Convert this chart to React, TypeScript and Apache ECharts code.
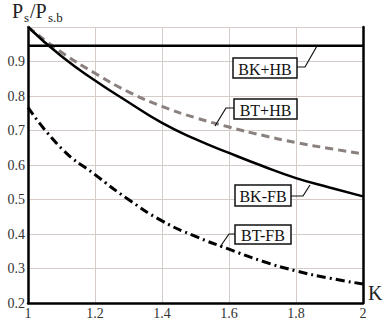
import React, { useEffect, useRef } from "react";
import * as echarts from "echarts";

const kValues = [1.0, 1.1, 1.2, 1.3, 1.4, 1.5, 1.6, 1.7, 1.8, 1.9, 2.0];
const bkHb = [0.946, 0.946, 0.946, 0.946, 0.946, 0.946, 0.946, 0.946, 0.946, 0.946, 0.946];
const btHb = [1.0, 0.927, 0.866, 0.812, 0.77, 0.737, 0.71, 0.686, 0.665, 0.648, 0.632];
const bkFb = [1.0, 0.915, 0.845, 0.782, 0.722, 0.675, 0.635, 0.597, 0.562, 0.535, 0.509];
const btFb = [0.767, 0.648, 0.572, 0.5, 0.438, 0.393, 0.356, 0.321, 0.293, 0.272, 0.255];
const seriesNames = ["BK+HB", "BT+HB", "BK-FB", "BT-FB"];

const SERIF = "Liberation Serif";

function pairs(ys: number[]) {
  return kValues.map((k, i) => [k, ys[i]]);
}

export default function App() {
  const ref = useRef<HTMLDivElement>(null);
  useEffect(() => {
    if (!ref.current) return;
    const chart = echarts.init(ref.current, undefined, { renderer: "svg" });
    const labelBox = (x: number, y: number, w: number, h: number, text: string) => ({
      type: "group",
      children: [
        {
          type: "rect",
          shape: { x, y, width: w, height: h },
          style: { fill: "#fff", stroke: "#111", lineWidth: 1.5 },
          z: 10,
        },
        {
          type: "text",
          x: x + w / 2,
          y: y + h / 2 + 1,
          style: {
            text,
            fill: "#111",
            fontFamily: SERIF,
            fontSize: 16,
            align: "center",
            verticalAlign: "middle",
          },
          z: 11,
        },
      ],
    });
    const leader = (pts: number[][]) => ({
      type: "polyline",
      shape: { points: pts },
      style: { stroke: "#111", lineWidth: 1.2, fill: "none" },
      z: 9,
    });
    const txt = (x: number, y: number, text: string, size: number) => ({
      type: "text",
      x,
      y,
      style: { text, fontFamily: SERIF, fontSize: size, fill: "#222" },
    });
    chart.setOption({
      animation: false,
      backgroundColor: "#fff",
      grid: { left: 28, right: 20, top: 27, bottom: 21, containLabel: false },
      xAxis: {
        type: "value",
        min: 1,
        max: 2,
        interval: 0.2,
        axisLine: { show: true, onZero: false, lineStyle: { color: "#000", width: 2.5 } },
        axisTick: { show: false },
        axisLabel: { color: "#333", fontFamily: SERIF, fontSize: 14, margin: 3 },
        splitLine: { show: true, lineStyle: { color: "#d6ccc7", width: 1 } },
      },
      yAxis: [
        {
          type: "value",
          min: 0.2,
          max: 1.0,
          interval: 0.1,
          axisLine: { show: true, onZero: false, lineStyle: { color: "#000", width: 2.5 } },
          axisTick: { show: false },
          axisLabel: {
            color: "#333",
            fontFamily: SERIF,
            fontSize: 14,
            margin: 3,
            formatter: (v: number) => (v >= 0.99 ? "" : v.toFixed(1)),
          },
          splitLine: { show: true, lineStyle: { color: "#d6ccc7", width: 1 } },
        },
        {
          type: "value",
          position: "right",
          min: 0.2,
          max: 1.0,
          interval: 0.1,
          axisLine: { show: true, onZero: false, lineStyle: { color: "#000", width: 2.5 } },
          axisTick: { show: false },
          axisLabel: { show: false },
          splitLine: { show: false },
        },
      ],
      series: [
        {
          name: seriesNames[0],
          type: "line",
          data: pairs(bkHb),
          showSymbol: false,
          lineStyle: { color: "#000", width: 2.5 },
          z: 3,
        },
        {
          name: seriesNames[1],
          type: "line",
          data: pairs(btHb),
          smooth: true,
          showSymbol: false,
          lineStyle: { color: "#8a807d", width: 3, type: [8, 5] },
          z: 2,
        },
        {
          name: seriesNames[2],
          type: "line",
          data: pairs(bkFb),
          smooth: true,
          showSymbol: false,
          lineStyle: { color: "#000", width: 2.5 },
          z: 3,
        },
        {
          name: seriesNames[3],
          type: "line",
          data: pairs(btFb),
          smooth: true,
          showSymbol: false,
          lineStyle: { color: "#000", width: 3, type: [9, 4, 2, 4] },
          z: 3,
        },
      ],
      graphic: [
        txt(12, 1, "P", 20),
        txt(24, 11, "s", 13),
        txt(30, 1, "/P", 20),
        txt(48, 11, "s.b", 13),
        txt(368, 283, "K", 20),
        leader([[297, 67], [305, 67], [317, 46]]),
        leader([[234, 108], [226, 108], [215, 126]]),
        leader([[291, 196], [303, 196], [310, 185]]),
        leader([[235, 234], [229, 234], [220, 247]]),
        labelBox(233, 58, 64, 20, seriesNames[0]),
        labelBox(234, 99, 63, 20, seriesNames[1]),
        labelBox(235, 185, 56, 21, seriesNames[2]),
        labelBox(235, 225, 56, 19, seriesNames[3]),
      ],
    });
    return () => chart.dispose();
  }, []);
  return <div ref={ref} style={{ width: 383, height: 324, position: "absolute", left: 0, top: 0 }} />;
}
